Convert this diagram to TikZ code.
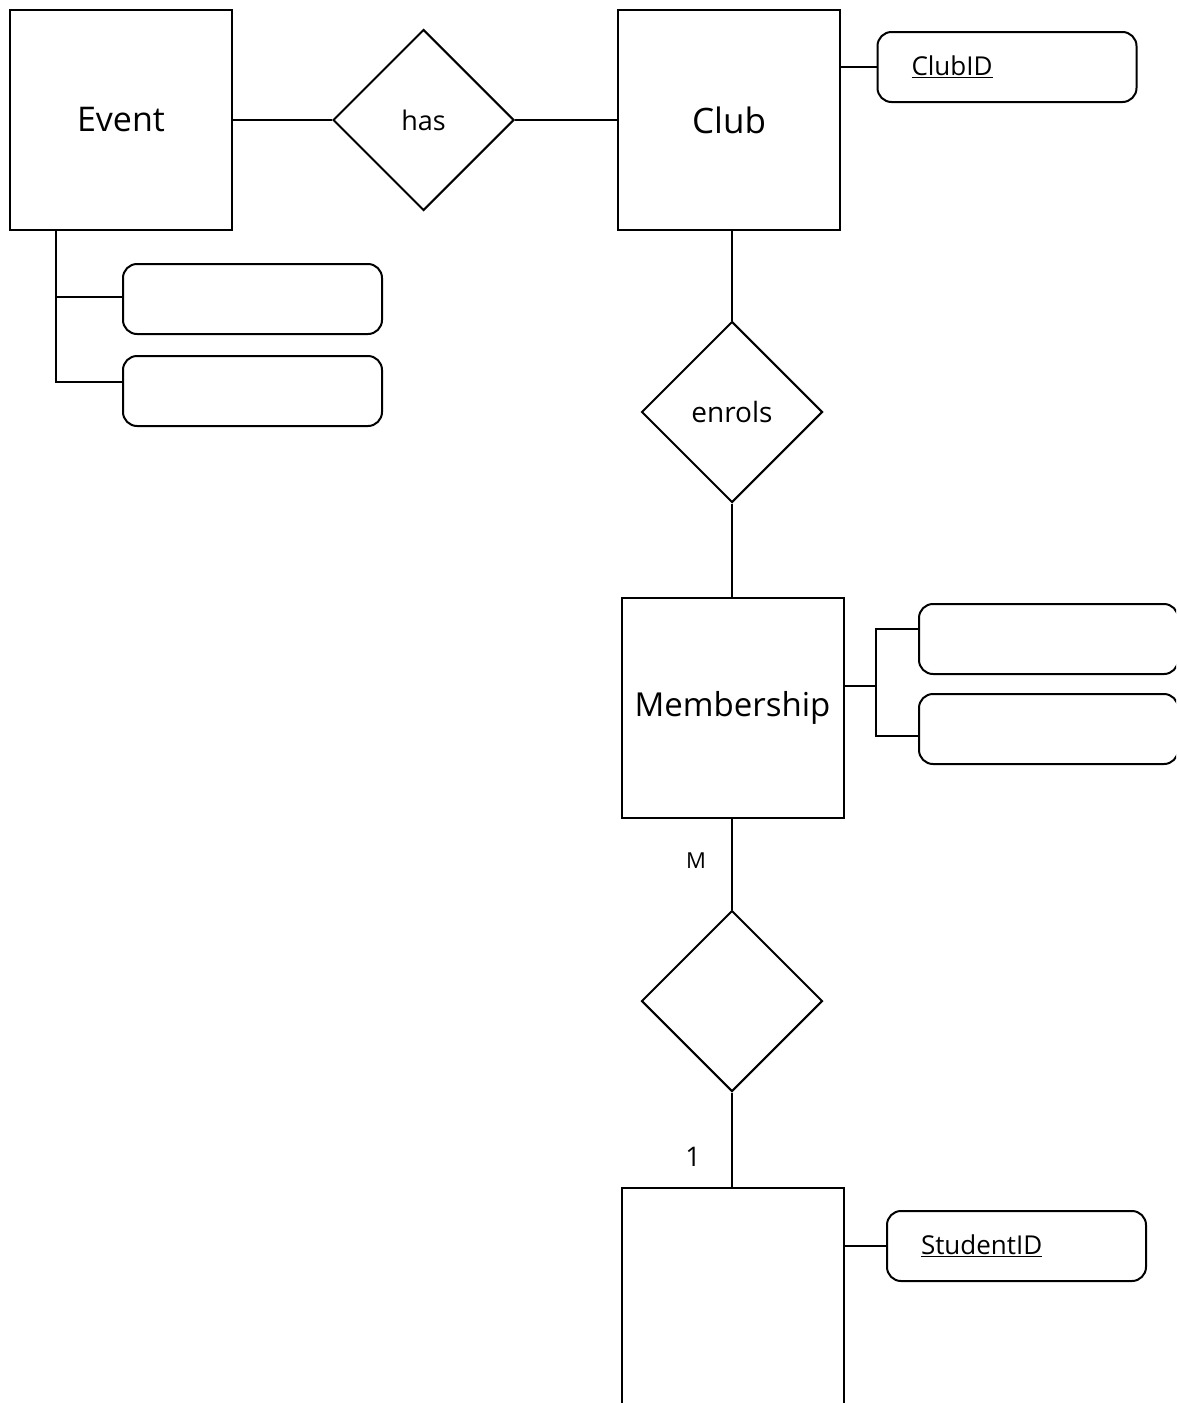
\documentclass[tikz,border=0pt]{standalone}
\usepackage{fontspec}
\setmainfont{Open Sans}
\usetikzlibrary{shapes.geometric}
\begin{document}
\begin{tikzpicture}[x=1pt,y=-1pt,line width=2pt,
  entity/.style={draw, rectangle, minimum width=222pt, minimum height=220pt, inner sep=0pt},
  rel/.style={draw, diamond, minimum width=181pt, minimum height=181pt, inner sep=0pt},
  attr/.style={draw, rectangle, rounded corners=14pt, minimum width=259pt, minimum height=70pt,
    inner xsep=34pt, text width=191pt, align=left},
  conn/.style={draw, line width=2pt},
  attrtext/.style={font=\fontsize{26}{30}\selectfont}]
\useasboundingbox (0,0) rectangle (1176,1403);
\clip (0,0) rectangle (1176,1403);

% entities
\node[entity, font=\fontsize{34}{40}\selectfont] (event) at (121,120) {Event};
\node[entity, font=\fontsize{35}{40}\selectfont] (club) at (729,120) {Club};
\node[entity, font=\fontsize{33}{38}\selectfont] (memb) at (732.5,708) {Membership};
\node[entity] (student) at (732.5,1298) {};

% relationships
\node[rel, font=\fontsize{27}{32}\selectfont] (has) at (423.5,120) {has};
\node[rel, font=\fontsize{28}{32}\selectfont] (enrols) at (732,412) {enrols};
\node[rel] (rel3) at (732,1001) {};

% attributes
\node[attr, attrtext] (clubid) at (1007,67) {\underline{ClubID}};
\node[attr] (ea1) at (252.5,299) {};
\node[attr] (ea2) at (252.5,391) {};
\node[attr] (ma1) at (1048.5,639) {};
\node[attr] (ma2) at (1048.5,729) {};
\node[attr, attrtext] (sid) at (1016.5,1246) {\underline{StudentID}};

% connectors
\draw[conn] (event.east) -- (has.west);
\draw[conn] (has.east) -- (club.west);
\draw[conn] (club.south -| enrols.north) -- (enrols.north);
\draw[conn] (enrols.south) -- (memb.north -| enrols.south);
\draw[conn] (memb.south -| rel3.north) -- (rel3.north);
\draw[conn] (rel3.south) -- (student.north -| rel3.south);

% attribute connectors
\draw[conn] (club.east |- clubid.west) -- (clubid.west);
\draw[conn] (sid.west -| student.east) -- (sid.west);

\coordinate (ev) at (56,230);
\coordinate (ev1) at (56,297);
\coordinate (ev2) at (56,382);
\draw[conn] (ev) -- (ev2) -- (ev2 -| ea2.west);
\draw[conn] (ev1) -- (ev1 -| ea1.west);

\coordinate (mj) at (876,686);
\coordinate (mj1) at (876,629);
\coordinate (mj2) at (876,736);
\draw[conn] (memb.east |- mj) -- (mj);
\draw[conn] (mj1 -| ma1.west) -- (mj1) -- (mj2) -- (mj2 -| ma2.west);

% cardinalities
\node[font=\fontsize{22}{26}\selectfont] (cm) at (696,861) {M};
\node[font=\fontsize{27}{32}\selectfont] (c1) at (693,1157) {1};
\end{tikzpicture}
\end{document}
